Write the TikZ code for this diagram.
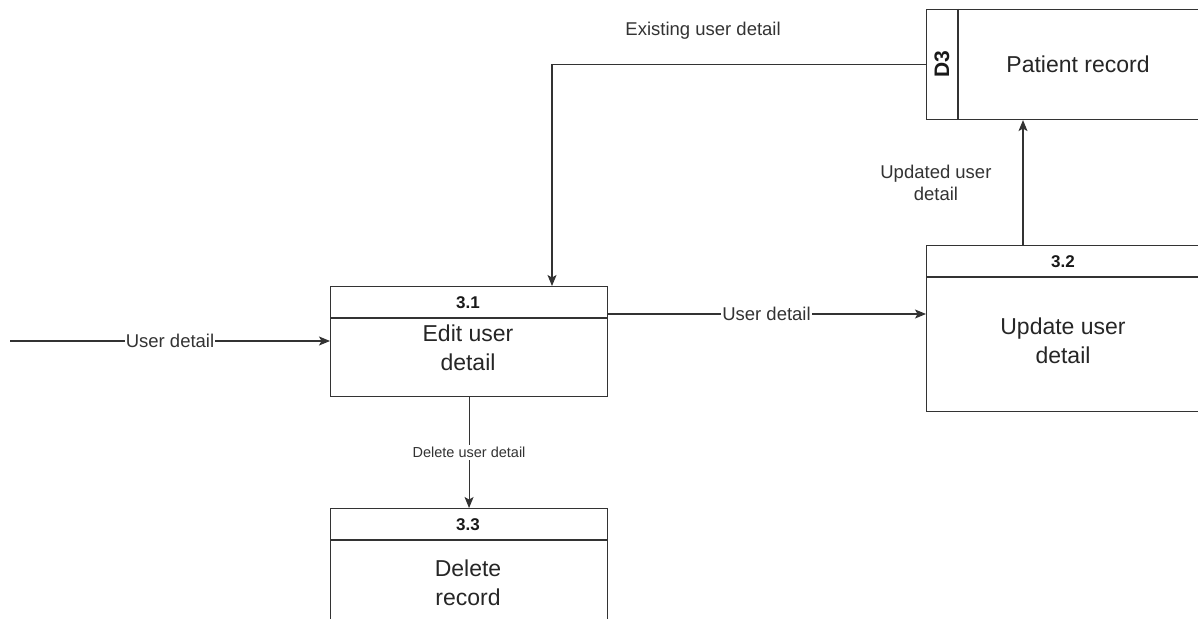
\documentclass[tikz,border=0pt]{standalone}
\usepackage{fontspec}
\setmainfont{Liberation Sans}
\usetikzlibrary{arrows.meta}
\usetikzlibrary{positioning}
\tikzset{
  box/.style={draw=black!80, line width=1.1pt, rectangle, anchor=north west, inner sep=0pt},
  boxtext/.style={text=black!85, align=center, font=\fontsize{23}{28.5}\selectfont},
  idtext/.style={text=black!90, font=\bfseries\fontsize{17}{20}\selectfont},
  lbl/.style={text=black!80, fill=white, inner sep=1pt, align=center, font=\fontsize{18.5}{22}\selectfont},
  smalllbl/.style={text=black!80, fill=white, inner sep=2pt, font=\fontsize{14.5}{17}\selectfont},
  flow/.style={draw=black!80, line width=1.1pt, ->, >={Stealth[length=11pt,width=9pt,inset=2.5pt]}},
}

\begin{document}
\begin{tikzpicture}[x=1pt, y=-1pt]
\useasboundingbox (0,0) rectangle (1198,618);
\clip (0,0) rectangle (1198,618);
% data store
\node[box, minimum width=300pt, minimum height=110pt] (d3) at (926,9) {};
\draw[black!80, line width=1.1pt] ([xshift=32pt]d3.north west) -- ([xshift=32pt]d3.south west);
\node[idtext, rotate=90, font=\bfseries\fontsize{21}{24}\selectfont] (d3id) at ([xshift=16pt]d3.west) {D3};
\node[boxtext] (d3name) at (1078,64) {Patient record};
% processes
\node[box, minimum width=277pt, minimum height=110pt] (p31) at (330,286) {};
\draw[black!80, line width=1.1pt] ([yshift=-32pt]p31.north west) -- ([yshift=-32pt]p31.north east);
\node[idtext] (p31id) at (468,303) {3.1};
\node[boxtext] (p31name) at (468,348) {Edit user\\detail};
\node[box, minimum width=300pt, minimum height=166pt] (p32) at (926,245) {};
\draw[black!80, line width=1.1pt] ([yshift=-32pt]p32.north west) -- ([yshift=-32pt]p32.north east);
\node[idtext] (p32id) at (1063,262) {3.2};
\node[boxtext] (p32name) at (1063,341) {Update user\\detail};
\node[box, minimum width=277pt, minimum height=166pt] (p33) at (330,508) {};
\draw[black!80, line width=1.1pt] ([yshift=-32pt]p33.north west) -- ([yshift=-32pt]p33.north east);
\node[idtext] (p33id) at (468,525) {3.3};
\node[boxtext] (p33name) at (468,583) {Delete\\record};
% flows
\coordinate (in31) at (10,341);
\draw[flow] (in31) -- (in31 -| p31.west) node[lbl, midway] (lblin) {User detail};
\coordinate (out31) at (607,314);
\draw[flow] (out31) -- (out31 -| p32.west) node[lbl, midway] (lbl12) {User detail};
\coordinate (top31) at (552,286);
\draw[flow] (d3.west) -| (top31) node[lbl, pos=0.298, yshift=34pt, fill=none] (lblexist) {Existing user detail};
\coordinate (top32) at (1023,245);
\draw[flow] (top32) -- (top32 |- d3.south) node[lbl, midway, left=30pt, fill=none] (lblupd) {Updated user\\detail};
\draw[flow] (p31.south) -- (p33.north) node[smalllbl, midway] (lbldel) {Delete user detail};
\end{tikzpicture}
\end{document}
